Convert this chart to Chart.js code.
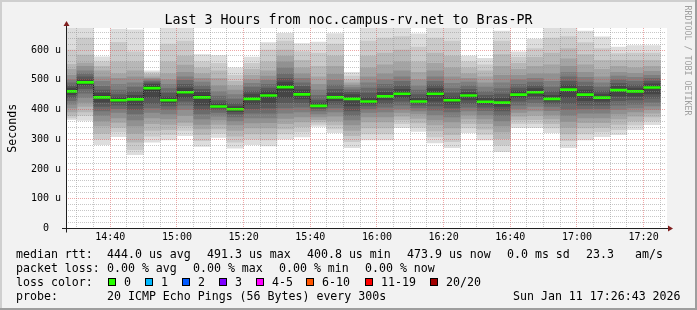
<!DOCTYPE html>
<html><head><meta charset="utf-8">
<script src="https://cdn.jsdelivr.net/npm/chart.js@4/dist/chart.umd.min.js"></script>
<style>html,body{margin:0;padding:0;background:#f2f2f2;}canvas{display:block;}</style>
</head><body>
<canvas id="c" width="697" height="310"></canvas>
<script>
// ---- data ----
const titleText = 'Last 3 Hours from noc.campus-rv.net to Bras-PR';
const graphEnd = '17:26:43';
const stepEnds = ['14:30','14:35','14:40','14:45','14:50','14:55','15:00','15:05','15:10','15:15','15:20','15:25',
  '15:30','15:35','15:40','15:45','15:50','15:55','16:00','16:05','16:10','16:15','16:20','16:25',
  '16:30','16:35','16:40','16:45','16:50','16:55','17:00','17:05','17:10','17:15','17:20','17:25'];
const medianRtt = [461,491,441,431,434,472,431,458,441,410,401,436,447,475,451,412,441,436,
  427,444,453,427,453,431,447,426,423,450,458,436,467,450,440,465,461,474];
const lossCount = [0,0,0,0,0,0,0,0,0,0,0,0,0,0,0,0,0,0,0,0,0,0,0,0,0,0,0,0,0,0,0,0,0,0,0,0];
// 20 sorted ping round-trip times (µs) per step
const pings = [
 [366,372,380,392,405,418,430,440,450,458,464,472,480,490,500,515,535,552,600,690],
 [363,380,392,410,424,440,455,470,482,489,494,500,510,520,530,545,556,583,640,690],
 [282,300,320,345,362,380,395,410,425,437,445,455,465,478,495,510,530,545,560,577],
 [309,325,340,357,372,390,403,415,425,429,433,440,450,465,485,505,520,560,626,670],
 [248,265,290,320,345,365,385,400,415,430,438,448,460,475,490,510,530,560,594,668],
 [290,310,330,352,372,390,405,420,440,465,478,485,490,495,500,505,510,518,525,530],
 [298,315,332,350,368,385,400,412,422,429,433,442,455,470,485,500,520,560,620,680],
 [312,330,345,357,380,400,415,428,440,454,462,472,485,498,510,525,549,580,630,680],
 [276,295,315,335,350,368,385,400,415,436,446,458,468,480,492,505,520,540,560,585],
 [306,320,335,350,365,378,390,400,406,409,411,420,430,445,460,480,505,530,555,581],
 [270,290,310,330,348,362,375,385,393,399,403,410,420,435,450,465,480,495,515,540],
 [282,300,318,338,355,372,388,402,418,432,440,452,462,475,488,500,515,535,555,576],
 [278,298,318,338,356,372,388,405,422,442,452,462,472,485,498,512,530,560,600,625],
 [300,318,335,352,370,388,405,422,440,468,482,492,505,520,540,560,580,600,630,656],
 [308,325,342,358,375,392,408,422,436,448,454,466,478,490,505,520,540,565,595,622],
 [343,350,358,366,375,385,395,403,408,411,414,422,432,448,465,485,510,545,590,627],
 [322,335,348,362,378,392,405,418,430,438,444,455,468,482,498,518,545,580,620,655],
 [272,292,312,330,348,365,380,395,412,433,440,450,458,466,474,482,490,500,512,525],
 [298,318,338,358,375,390,402,412,420,425,430,440,455,472,490,510,540,580,630,680],
 [298,318,338,358,375,392,408,420,432,442,447,458,470,485,500,520,550,590,640,680],
 [339,352,365,378,390,402,415,428,440,450,456,468,480,495,510,530,560,600,645,680],
 [326,340,355,370,385,395,405,415,422,426,429,438,450,465,480,500,525,560,610,654],
 [288,308,328,348,365,382,398,412,428,450,456,470,482,495,510,530,555,590,640,680],
 [272,292,315,338,358,375,392,405,418,428,434,442,455,470,488,510,540,580,630,680],
 [322,338,352,368,382,395,408,420,432,444,450,458,468,480,492,505,520,540,560,580],
 [298,316,334,352,368,382,396,408,418,424,428,438,448,460,475,490,510,530,550,572],
 [258,280,302,325,345,362,380,395,410,420,426,438,452,470,490,515,545,585,630,664],
 [339,352,365,378,390,402,415,428,440,448,452,462,472,485,500,515,535,555,575,594],
 [339,352,366,380,395,410,422,435,446,455,461,470,480,492,505,520,545,575,605,637],
 [322,338,352,368,382,396,410,420,428,434,438,448,460,475,495,520,550,590,640,680],
 [272,295,318,340,360,380,400,420,440,465,470,482,495,510,525,545,570,605,645,680],
 [298,318,338,356,372,388,402,415,430,448,452,465,478,492,508,525,550,585,625,664],
 [309,325,340,356,372,388,402,415,428,438,442,452,462,475,490,510,535,565,605,644],
 [315,332,350,368,385,400,415,430,445,462,468,478,488,500,512,525,545,565,588,610],
 [332,348,362,378,392,405,418,432,445,458,464,472,482,495,508,522,540,565,590,615],
 [349,362,375,388,400,412,425,438,452,472,476,486,495,505,515,528,545,565,590,615]
];
const yMaxValue = 674;
const yTickValues = [0,100,200,300,400,500,600];
const yTickLabels = ['0  ','100 u','200 u','300 u','400 u','500 u','600 u'];
const xTickLabels = ['14:40','15:00','15:20','15:40','16:00','16:20','16:40','17:00','17:20'];
const yAxisTitle = 'Seconds';
const rttSummary = ['444.0 us avg','491.3 us max','400.8 us min','473.9 us now','0.0 ms sd','23.3','am/s'];
const lossSummary = ['0.00 % avg','0.00 % max','0.00 % min','0.00 % now'];
const lossLegend = ['0','1','2','3','4-5','6-10','11-19','20/20'];
const lossLower = [0,1,2,3,4,6,11,20];
const lossColors = ['#26ff00','#00b8ff','#0059ff','#7e00ff','#ff00ff','#ff5500','#ff0000','#a10000'];
const probeText = '20 ICMP Echo Pings (56 Bytes) every 300s';
const stampText = 'Sun Jan 11 17:26:43 2026';
const watermark = 'RRDTOOL / TOBI OETIKER';

// ---- derived ----
const toMin = s => { const p = s.split(':').map(Number); return p[0]*60 + p[1] + (p[2]||0)/60; };
const STEP = 5;
const slotEnd = stepEnds.map(toMin);
const slotMid = slotEnd.map(t => t - STEP/2);
const X_END = toMin(graphEnd);
const X_START = X_END - 180;
const MONO = '"DejaVu Sans Mono", monospace';
const lossColor = n => { let c = lossColors[0]; lossLower.forEach((l,i)=>{ if (n >= l) c = lossColors[i]; }); return c; };

const datasets = [];
// green/loss coloured median bands (2 px high)
const halfBand = yMaxValue / 200;
datasets.push({
  type: 'bar', order: 0, grouped: false, clip: 0,
  data: slotMid.map((x,i) => ({x, y: [medianRtt[i]-halfBand, medianRtt[i]+halfBand]})),
  backgroundColor: lossCount.map(lossColor),
  borderWidth: 0, barPercentage: 1, categoryPercentage: 1
});
// dark median step line
const medPts = slotEnd.map((t,i) => ({x: t - STEP, y: medianRtt[i]}));
medPts.push({x: slotEnd[slotEnd.length-1], y: medianRtt[medianRtt.length-1]});
datasets.push({
  type: 'line', order: 1, clip: 0, data: medPts, stepped: 'before',
  borderColor: '#202020', borderWidth: 1, pointRadius: 0, fill: false
});
// smoke layers
const half = 10;
for (let k = 0; k < half; k++) {
  const c = Math.floor(190/half*(half-(k+1))) + 50;
  datasets.push({
    type: 'bar', order: 20 - k, grouped: false, clip: 0,
    data: slotMid.map((x,i) => ({x, y: [pings[i][k], pings[i][19-k]]})),
    backgroundColor: `rgb(${c},${c},${c})`,
    borderWidth: 0, barPercentage: 1, categoryPercentage: 1
  });
}

const MINOR = 'rgba(143,143,143,0.5)';
const MAJOR = 'rgba(222,79,79,0.5)';
const fmtHM = v => { const h = Math.floor(v/60), m = Math.round(v%60); return h + ':' + String(m).padStart(2,'0'); };

const rrdDecor = {
  id: 'rrdDecor',
  beforeDraw(chart) {
    const {ctx, chartArea: a, width: W, height: H} = chart;
    ctx.save();
    ctx.fillStyle = '#f2f2f2'; ctx.fillRect(0,0,W,H);
    ctx.fillStyle = '#cfcfcf'; ctx.fillRect(0,0,W,2); ctx.fillRect(0,0,2,H);
    ctx.fillStyle = '#9e9e9e'; ctx.fillRect(0,H-2,W,2); ctx.fillRect(W-2,0,2,H);
    ctx.fillStyle = '#ffffff'; ctx.fillRect(a.left, a.top, a.right - a.left + 1, a.bottom - a.top);
    ctx.restore();
  },
  afterDraw(chart) {
    const {ctx, chartArea: a} = chart;
    ctx.save();
    // axes
    ctx.strokeStyle = '#1f1f1f'; ctx.lineWidth = 1;
    const ax = Math.floor(a.left) + 0.5, ay = Math.floor(a.bottom) + 0.5;
    ctx.beginPath(); ctx.moveTo(a.left - 4, ay); ctx.lineTo(a.right + 4, ay); ctx.stroke();
    ctx.beginPath(); ctx.moveTo(ax, a.bottom + 4); ctx.lineTo(ax, a.top - 3); ctx.stroke();
    ctx.fillStyle = 'rgb(128,31,31)';
    ctx.beginPath(); ctx.moveTo(a.right + 2, ay - 3); ctx.lineTo(a.right + 7, ay); ctx.lineTo(a.right + 2, ay + 3); ctx.closePath(); ctx.fill();
    ctx.beginPath(); ctx.moveTo(ax - 3, a.top - 2); ctx.lineTo(ax, a.top - 7); ctx.lineTo(ax + 3, a.top - 2); ctx.closePath(); ctx.fill();
    // title
    ctx.fillStyle = '#000';
    ctx.textBaseline = 'alphabetic';
    ctx.font = '13.3px ' + MONO; ctx.textAlign = 'center';
    ctx.fillText(titleText, 348.5, 24);
    // y axis title
    ctx.font = '11.6px ' + MONO;
    ctx.save(); ctx.translate(15.5, (a.top + a.bottom)/2); ctx.rotate(-Math.PI/2);
    ctx.fillText(yAxisTitle, 0, 0); ctx.restore();
    // legend
    ctx.textAlign = 'left';
    ctx.fillText('median rtt:', 16, 258);
    [107,207,307,407,507,586,635].forEach((x,i) => ctx.fillText(rttSummary[i], x, 258));
    ctx.fillText('packet loss:', 16, 272);
    [107,193,279,365].forEach((x,i) => ctx.fillText(lossSummary[i], x, 272));
    ctx.fillText('loss color:', 16, 286);
    [108,145,182,219,256,306,365,430].forEach((x,i) => {
      ctx.fillStyle = '#000'; ctx.fillRect(x, 278, 8, 8);
      ctx.fillStyle = lossColors[i]; ctx.fillRect(x+1, 279, 6, 6);
      ctx.fillStyle = '#000'; ctx.fillText(lossLegend[i], x + 16, 286);
    });
    ctx.fillText('probe:', 16, 300);
    ctx.fillText(probeText, 107, 300);
    ctx.fillText(stampText, 513, 300);
    // watermark
    ctx.fillStyle = '#a0a0a0';
    ctx.font = '8.3px ' + MONO;
    ctx.save(); ctx.translate(687.5, 5.5); ctx.rotate(Math.PI/2);
    ctx.textBaseline = 'middle'; ctx.fillText(watermark, 0, 0); ctx.restore();
    ctx.restore();
  }
};

new Chart(document.getElementById('c'), {
  type: 'bar',
  data: { datasets },
  options: {
    responsive: false, animation: false, devicePixelRatio: 1,
    layout: { padding: { left: 0, top: 28, right: 31, bottom: 61.5 } },
    plugins: { legend: { display: false }, tooltip: { enabled: false }, title: { display: false } },
    events: [],
    scales: {
      x: {
        type: 'linear', min: X_START, max: X_END, offset: false,
        afterBuildTicks: s => { s.ticks = slotEnd.map(v => ({value: v})); },
        afterFit: s => { s.height = 20; },
        grid: { offset: false, z: 1, drawTicks: false, lineWidth: 1,
          color: c => (c.tick && Math.round(c.tick.value) % 20 === 0) ? MAJOR : MINOR },
        border: { display: false, dash: [1,1] },
        ticks: { autoSkip: false, maxRotation: 0, padding: 3, color: '#000',
          font: { family: MONO, size: 10 },
          callback: v => { const l = fmtHM(v); return xTickLabels.includes(l) ? l : ''; } }
      },
      y: {
        type: 'linear', min: 0, max: yMaxValue, beginAtZero: true,
        afterBuildTicks: s => { const t = []; for (let v = 0; v < yMaxValue; v += 20) t.push({value: v}); s.ticks = t; },
        afterFit: s => { s.width = 66; },
        grid: { z: 1, drawTicks: false, lineWidth: 1,
          color: c => (c.tick && c.tick.value % 100 === 0) ? MAJOR : MINOR },
        border: { display: false, dash: [1,1] },
        ticks: { autoSkip: false, padding: 5, color: '#000',
          font: { family: MONO, size: 10 },
          callback: v => { const i = yTickValues.indexOf(v); return i >= 0 ? yTickLabels[i] : ''; } }
      }
    }
  },
  plugins: [rrdDecor]
});
</script>
</body></html>
